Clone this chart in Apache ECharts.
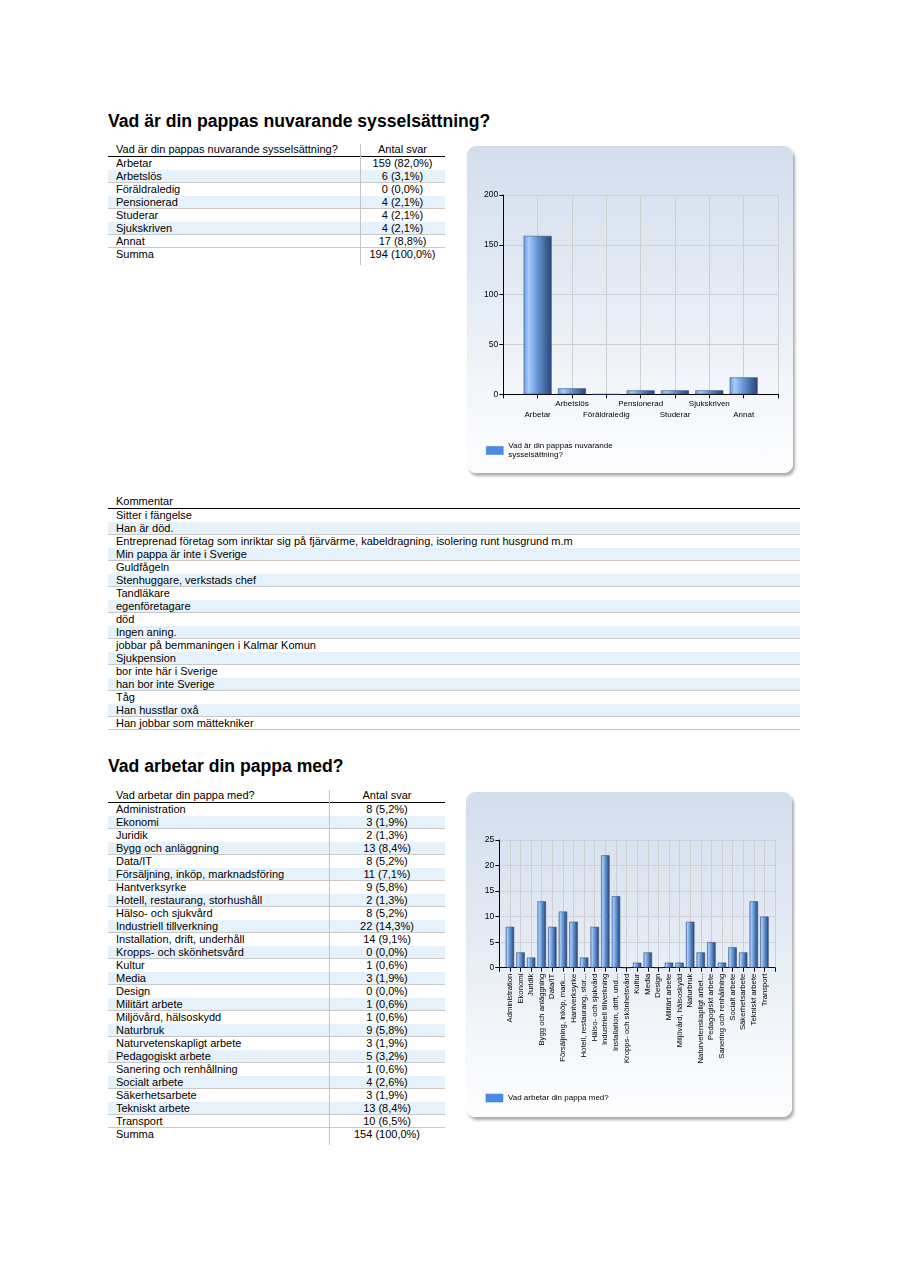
<!DOCTYPE html>
<html>
<head>
<meta charset="utf-8">
<script src="https://cdn.jsdelivr.net/npm/echarts@6/dist/echarts.min.js"></script>
<style>
html,body{margin:0;padding:0;background:#fff;}
#page{position:relative;width:902px;height:1273px;overflow:hidden;font-family:'Liberation Sans',Arial,sans-serif;color:#000;}
.title{position:absolute;left:108px;font-weight:bold;font-size:17.6px;line-height:17.6px;white-space:nowrap;}
.row{position:absolute;height:13px;font-size:11px;line-height:13px;white-space:nowrap;box-sizing:border-box;}
.cell{position:absolute;top:0;height:13px;}
.hline{position:absolute;height:1px;}
.vline{position:absolute;width:1px;background:#c4c4c4;}
.panel{position:absolute;border-radius:9px;background:linear-gradient(to bottom,#d3deed 0%,#e2e9f3 40%,#f3f6fa 75%,#fdfdfe 100%);box-shadow:2px 3px 3px rgba(0,0,0,0.33);}
.chart{position:absolute;left:0;top:0;width:100%;height:100%;}
</style>
</head>
<body>
<div id="page">
  <div class="title" style="top:112.8px">Vad är din pappas nuvarande sysselsättning?</div>
  <div class="title" style="top:757.6px">Vad arbetar din pappa med?</div>
  <div class="panel" style="left:467px;top:146px;width:326px;height:327px"><div id="chart1" class="chart"></div></div>
  <div class="panel" style="left:466px;top:792px;width:326px;height:325px"><div id="chart2" class="chart"></div></div>
</div>
<script>
// ---------- Data ----------
const statusQuestion = 'Vad är din pappas nuvarande sysselsättning?';
const statusCategories = ['Arbetar','Arbetslös','Föräldraledig','Pensionerad','Studerar','Sjukskriven','Annat'];
const statusCounts = [159, 6, 0, 4, 4, 4, 17];
const statusPercents = ['82,0','3,1','0,0','2,1','2,1','2,1','8,8'];
const statusTotal = '194 (100,0%)';
const statusYTicks = {min: 0, max: 200, interval: 50};

const comments = [
  'Sitter i fängelse',
  'Han är död.',
  'Entreprenad företag som inriktar sig på fjärvärme, kabeldragning, isolering runt husgrund m.m',
  'Min pappa är inte i Sverige',
  'Guldfågeln',
  'Stenhuggare, verkstads chef',
  'Tandläkare',
  'egenföretagare',
  'död',
  'Ingen aning.',
  'jobbar på bemmaningen i Kalmar Komun',
  'Sjukpension',
  'bor inte här i Sverige',
  'han bor inte Sverige',
  'Tåg',
  'Han husstlar oxå',
  'Han jobbar som mättekniker'
];

const jobQuestion = 'Vad arbetar din pappa med?';
const jobCategories = ['Administration','Ekonomi','Juridik','Bygg och anläggning','Data/IT',
  'Försäljning, inköp, marknadsföring','Hantverksyrke','Hotell, restaurang, storhushåll',
  'Hälso- och sjukvård','Industriell tillverkning','Installation, drift, underhåll',
  'Kropps- och skönhetsvård','Kultur','Media','Design','Militärt arbete','Miljövård, hälsoskydd',
  'Naturbruk','Naturvetenskapligt arbete','Pedagogiskt arbete','Sanering och renhållning',
  'Socialt arbete','Säkerhetsarbete','Tekniskt arbete','Transport'];
const jobCounts = [8, 3, 2, 13, 8, 11, 9, 2, 8, 22, 14, 0, 1, 3, 0, 1, 1, 9, 3, 5, 1, 4, 3, 13, 10];
const jobPercents = ['5,2','1,9','1,3','8,4','5,2','7,1','5,8','1,3','5,2','14,3','9,1','0,0','0,6','1,9',
  '0,0','0,6','0,6','5,8','1,9','3,2','0,6','2,6','1,9','8,4','6,5'];
const jobTotal = '154 (100,0%)';
const jobYTicks = {min: 0, max: 25, interval: 5};

// ---------- Tables (HTML) ----------
const page = document.getElementById('page');
const BLUE = '#e6f2fb';
const GRID = '#c8c8c8';

function el(cls, style, text) {
  const d = document.createElement('div');
  d.className = cls;
  Object.assign(d.style, style);
  if (text !== undefined) d.textContent = text;
  page.appendChild(d);
  return d;
}

function twoColTable(x, right, divider, headTop, header1, header2, rows, total) {
  const w = right - x;
  const h = el('row', {left: x + 'px', top: headTop + 'px', width: w + 'px'});
  const c1 = document.createElement('div'); c1.className = 'cell';
  Object.assign(c1.style, {left: '8px'}); c1.textContent = header1; h.appendChild(c1);
  const c2 = document.createElement('div'); c2.className = 'cell';
  Object.assign(c2.style, {left: (divider - x) + 'px', width: (right - divider) + 'px', textAlign: 'center'});
  c2.textContent = header2; h.appendChild(c2);
  el('hline', {left: x + 'px', top: (headTop + 13) + 'px', width: w + 'px', background: '#000'});
  const start = headTop + 14;
  const all = rows.concat([[ 'Summa', total, true ]]);
  all.forEach((r, i) => {
    const isBlue = (i % 2 === 1) && !r[2];
    const row = el('row', {left: x + 'px', top: (start + 13 * i) + 'px', width: w + 'px',
      background: isBlue ? BLUE : 'transparent',
      borderBottom: (i < all.length - 1) ? ('1px solid ' + (isBlue ? GRID : 'transparent')) : 'none'});
    const a = document.createElement('div'); a.className = 'cell';
    a.style.left = '8px'; a.textContent = r[0]; row.appendChild(a);
    const b = document.createElement('div'); b.className = 'cell';
    Object.assign(b.style, {left: (divider - x) + 'px', width: (right - divider) + 'px', textAlign: 'center'});
    b.textContent = r[1]; row.appendChild(b);
  });
  el('hline', {left: x + 'px', top: (start + 13 * (all.length - 1) - 1) + 'px', width: w + 'px', background: GRID});
  el('vline', {left: divider + 'px', top: (headTop + 1) + 'px', height: (14 + 13 * all.length + 3) + 'px'});
}

twoColTable(108, 445, 360, 143, statusQuestion, 'Antal svar',
  statusCategories.map((c, i) => [c, statusCounts[i] + ' (' + statusPercents[i] + '%)']), statusTotal);

twoColTable(108, 445, 329, 788.5, jobQuestion, 'Antal svar',
  jobCategories.map((c, i) => [c, jobCounts[i] + ' (' + jobPercents[i] + '%)']), jobTotal);

// comments table
(function () {
  const x = 108, right = 800, headTop = 494.5;
  const w = right - x;
  const h = el('row', {left: x + 'px', top: headTop + 'px', width: w + 'px'});
  const c = document.createElement('div'); c.className = 'cell'; c.style.left = '8px';
  c.textContent = 'Kommentar'; h.appendChild(c);
  el('hline', {left: x + 'px', top: (headTop + 13) + 'px', width: w + 'px', background: '#000'});
  const start = headTop + 14;
  comments.forEach((t, i) => {
    const isBlue = i % 2 === 1;
    const last = i === comments.length - 1;
    const row = el('row', {left: x + 'px', top: (start + 13 * i) + 'px', width: w + 'px',
      background: isBlue ? BLUE : 'transparent',
      borderBottom: '1px solid ' + ((isBlue || last) ? GRID : 'transparent')});
    const a = document.createElement('div'); a.className = 'cell'; a.style.left = '8px';
    a.textContent = t; row.appendChild(a);
  });
})();

// ---------- Charts ----------
const FONT = "'Liberation Sans', Arial, sans-serif";
const barGradient = {
  type: 'linear', x: 0, y: 0, x2: 1, y2: 0,
  colorStops: [
    {offset: 0, color: '#6a9ae0'},
    {offset: 0.18, color: '#a8ccf7'},
    {offset: 0.45, color: '#6d9bdc'},
    {offset: 0.8, color: '#3d6399'},
    {offset: 1, color: '#2a4674'}
  ]
};

function baseOption(cfg) {
  return {
    animation: false,
    textStyle: {fontFamily: FONT},
    grid: cfg.grid,
    legend: {
      left: cfg.legendLeft, top: cfg.legendTop, orient: 'vertical', padding: 0,
      itemWidth: 17, itemHeight: 8, icon: 'rect', selectedMode: false,
      data: [{name: cfg.seriesName, itemStyle: {color: '#4a8be6', borderColor: '#3f77c6', borderWidth: 0.5}}],
      formatter: cfg.legendFormatter || (n => n),
      textStyle: {fontSize: 8, color: '#000', lineHeight: 9.5, fontFamily: FONT}
    },
    xAxis: {
      type: 'value', min: 0, max: cfg.categories.length + 1, interval: 1,
      axisLine: {show: true, onZero: true, lineStyle: {color: '#000', width: 1}},
      axisTick: {show: true, length: 4, lineStyle: {color: '#000'}},
      splitLine: {show: true, lineStyle: {color: '#cfcfcf', width: 1}},
      axisLabel: Object.assign({color: '#000', fontFamily: FONT, showMinLabel: true, showMaxLabel: true},
        cfg.xLabel)
    },
    yAxis: {
      type: 'value', min: cfg.yTicks.min, max: cfg.yTicks.max, interval: cfg.yTicks.interval,
      axisLine: {show: true, lineStyle: {color: '#000', width: 1}},
      axisTick: {show: true, length: 4, lineStyle: {color: '#000'}},
      splitLine: {show: true, lineStyle: {color: '#cfcfcf', width: 1}},
      axisLabel: {color: '#000', fontSize: 8.5, margin: 5, fontFamily: FONT}
    },
    series: [{
      name: cfg.seriesName, type: 'bar',
      data: cfg.values.map((v, i) => [i + 1, v]),
      barWidth: cfg.barWidth,
      itemStyle: {color: barGradient, borderColor: 'rgba(38,66,112,0.85)', borderWidth: 0.6},
      emphasis: {disabled: true}
    }]
  };
}

const chart1 = echarts.init(document.getElementById('chart1'), null, {renderer: 'canvas'});
chart1.setOption(baseOption({
  categories: statusCategories,
  values: statusCounts,
  yTicks: statusYTicks,
  seriesName: statusQuestion,
  grid: {left: 36.3, top: 49, width: 274.7, height: 199.3},
  barWidth: 28,
  legendLeft: 19, legendTop: 295,
  legendFormatter: () => 'Vad är din pappas nuvarande\nsysselsättning?',
  xLabel: {
    fontSize: 8, margin: 4, lineHeight: 11,
    formatter: v => {
      const i = Math.round(v) - 1;
      if (i < 0 || i >= statusCategories.length) return '';
      return (i % 2 === 0 ? '\n' : '') + statusCategories[i];
    }
  }
}));

const chart2 = echarts.init(document.getElementById('chart2'), null, {renderer: 'canvas'});
chart2.setOption(baseOption({
  categories: jobCategories,
  values: jobCounts,
  yTicks: jobYTicks,
  seriesName: jobQuestion,
  grid: {left: 33.3, top: 48, width: 275.7, height: 127.7},
  barWidth: 8.5,
  legendLeft: 19.7, legendTop: 301.3,
  xLabel: {
    fontSize: 7.7, margin: 6, rotate: 90,
    formatter: v => {
      const i = Math.round(v) - 1;
      if (i < 0 || i >= jobCategories.length) return '';
      const s = jobCategories[i];
      return s.length > 24 ? s.slice(0, 24) + '...' : s;
    }
  }
}));
</script>
</body>
</html>
